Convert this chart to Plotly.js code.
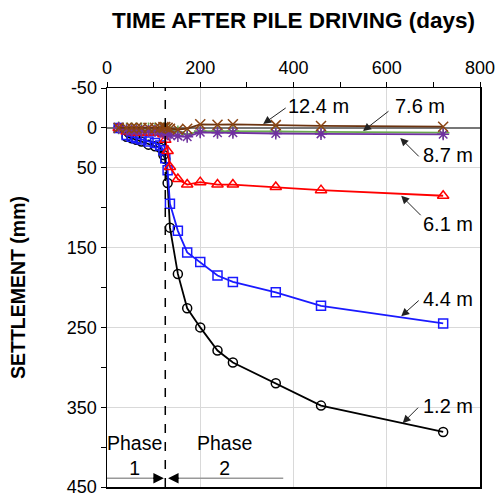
<!DOCTYPE html>
<html>
<head>
<meta charset="utf-8">
<script src="https://cdn.plot.ly/plotly-3.0.1.min.js"></script>
<style>html,body{margin:0;padding:0;background:#fff}#chart{width:499px;height:500px}</style>
</head>
<body>
<div id="chart"></div>
<script>
// Time after pile driving (days)
const days = [25, 42, 53, 63, 74, 89, 103, 114, 121, 125, 130, 135, 152, 172, 200, 237, 270, 362, 459, 721];
// Settlement (mm) by depth
const s1_2  = [0, 11, 13, 15, 17, 21, 23, 25, 34, 39, 69, 125, 183, 226, 250, 279, 294, 320, 348, 381];
const s4_4  = [0, 9, 11, 13, 14.5, 17, 19, 22, 28, 38, 53, 95, 129, 156, 168, 185, 193, 206, 223, 245];
const s6_1  = [0, 4.5, 5, 6, 6, 6, 5, 6, 8, 15, 29, 49, 64, 71, 68, 71, 71, 74, 78, 85];
const s7_6  = [0, 1, 1, 1, 1, 1, 1, 1, 1, 1, 2, 3, 5, 8, 4, 4, 4, 4.5, 5, 6];
const s8_7  = [0, 3, 3.5, 3.5, 4, 4, 4, 4.5, 5, 6, 8, 9, 10, 11, 5.5, 6, 6, 7, 7.5, 8];
const s12_4 = [0, 0, 0, 0, 0, 0, 0, 0, -1, -1, 0, 1, 2, 1, -4.5, -4, -4.5, -3.5, -2.5, -1.5];

const depthLabels = ['1.2 m', '4.4 m', '6.1 m', '7.6 m', '8.7 m', '12.4 m'];
const xTicks = [0, 200, 400, 600, 800];
const yTicks = [-50, 0, 50, 150, 250, 350, 450];
const phaseDay = 125;

function tr(y, color, symbol, size, lc) {
  return {x: days, y: y, type: 'scatter', mode: 'lines+markers',
    line: {color: lc || color, width: 1.8},
    marker: {symbol: symbol, size: size, color: color, line: {color: color, width: 1.5}},
    showlegend: false, hoverinfo: 'skip'};
}
const data = [
  tr(s1_2, '#000000', 'circle-open', 9),
  tr(s4_4, '#1a1aff', 'square-open', 9),
  tr(s6_1, '#ff0000', 'triangle-up-open', 10),
  tr(s7_6, '#6aa84f', 'cross-thin-open', 9),
  tr(s8_7, '#7030a0', 'asterisk-open', 10),
  tr(s12_4, '#8b4513', 'x-thin-open', 10, '#6b3410')
];

const F = 'Liberation Sans, Arial, sans-serif';
function lab(text, x, y) {
  return {text: text, x: x, y: y, xref: 'x', yref: 'y', showarrow: false,
    font: {family: F, size: 20, color: '#000'}};
}
function arr(x, y, ax, ay) {
  return {text: '', x: x, y: y, xref: 'x', yref: 'y', ax: ax, ay: ay, showarrow: true,
    arrowhead: 2, arrowsize: 1.6, arrowwidth: 1, arrowcolor: '#222'};
}
const annotations = [
  lab(depthLabels[5], 453, -28), arr(335, -5, 24, -17),
  lab(depthLabels[3], 672, -28), arr(549, 4, 27, -21),
  lab(depthLabels[4], 732, 34), arr(629, 12.5, 20, 20),
  lab(depthLabels[2], 732, 120), arr(631, 85, 21, 21),
  lab(depthLabels[1], 732, 214), arr(631, 236, 19, -17),
  lab(depthLabels[0], 732, 348), arr(634, 370, 17, -17),
  {text: 'Phase<br>1', x: 60, y: 410, xref: 'x', yref: 'y', showarrow: false,
    font: {family: F, size: 19.5, color: '#000'}},
  {text: 'Phase<br>2', x: 251, y: 410, xref: 'x', yref: 'y', showarrow: false,
    font: {family: F, size: 19.5, color: '#000'}},
  {text: '', x: 122, y: 439, xref: 'x', yref: 'y', ax: -12, ay: 0, showarrow: true,
    arrowhead: 2, arrowsize: 1.4, arrowwidth: 1.5, arrowcolor: '#000'},
  {text: '', x: 131, y: 439, xref: 'x', yref: 'y', ax: 12, ay: 0, showarrow: true,
    arrowhead: 2, arrowsize: 1.4, arrowwidth: 1.5, arrowcolor: '#000'}
];

const shapes = [
  {type: 'line', xref: 'x', yref: 'paper', x0: phaseDay, x1: phaseDay, y0: 0, y1: 1,
    line: {color: '#000', width: 1.5, dash: 'dash'}},
  {type: 'line', xref: 'x', yref: 'y', x0: 0, x1: 116, y0: 439, y1: 439,
    line: {color: '#999', width: 1.5}},
  {type: 'line', xref: 'x', yref: 'y', x0: 137, x1: 378, y0: 439, y1: 439,
    line: {color: '#999', width: 1.5}}
];

const layout = {
  width: 499, height: 500,
  margin: {l: 107, r: 19, t: 88, b: 13},
  paper_bgcolor: '#fff', plot_bgcolor: '#fff',
  font: {family: F, size: 18, color: '#000'},
  showlegend: false,
  xaxis: {
    side: 'top', range: [0, 800], tickvals: xTicks, ticktext: xTicks.map(String),
    ticks: 'outside', ticklen: 5, tickcolor: '#000', tickwidth: 1,
    showgrid: true, gridcolor: '#d9d9d9', gridwidth: 1, zeroline: false,
    showline: true, linecolor: '#000', linewidth: 1.5, mirror: true,
    minor: {tickvals: [100, 300, 500, 700], ticks: 'outside', ticklen: 5, tickcolor: '#000', showgrid: false},
    tickfont: {family: F, size: 18, color: '#000'},
    title: {text: 'TIME AFTER PILE DRIVING (days)', standoff: 23,
      font: {family: F, size: 22.5, color: '#000', weight: 'bold'}}
  },
  yaxis: {
    range: [450, -50], tickvals: yTicks, ticktext: yTicks.map(String),
    ticks: 'outside', ticklen: 5, tickcolor: '#000', tickwidth: 1,
    showgrid: true, gridcolor: '#d9d9d9', gridwidth: 1,
    zeroline: true, zerolinecolor: '#777', zerolinewidth: 1.5,
    showline: true, linecolor: '#000', linewidth: 1.5, mirror: true,
    minor: {tickvals: [100, 200, 300, 400], ticks: 'outside', ticklen: 5, tickcolor: '#000', showgrid: false},
    tickfont: {family: F, size: 18, color: '#000'},
    title: {text: 'SETTLEMENT (mm)', standoff: 36,
      font: {family: F, size: 19.5, color: '#000', weight: 'bold'}}
  },
  annotations: annotations,
  shapes: shapes
};

Plotly.newPlot('chart', data, layout, {displayModeBar: false, staticPlot: true});
</script>
</body>
</html>
